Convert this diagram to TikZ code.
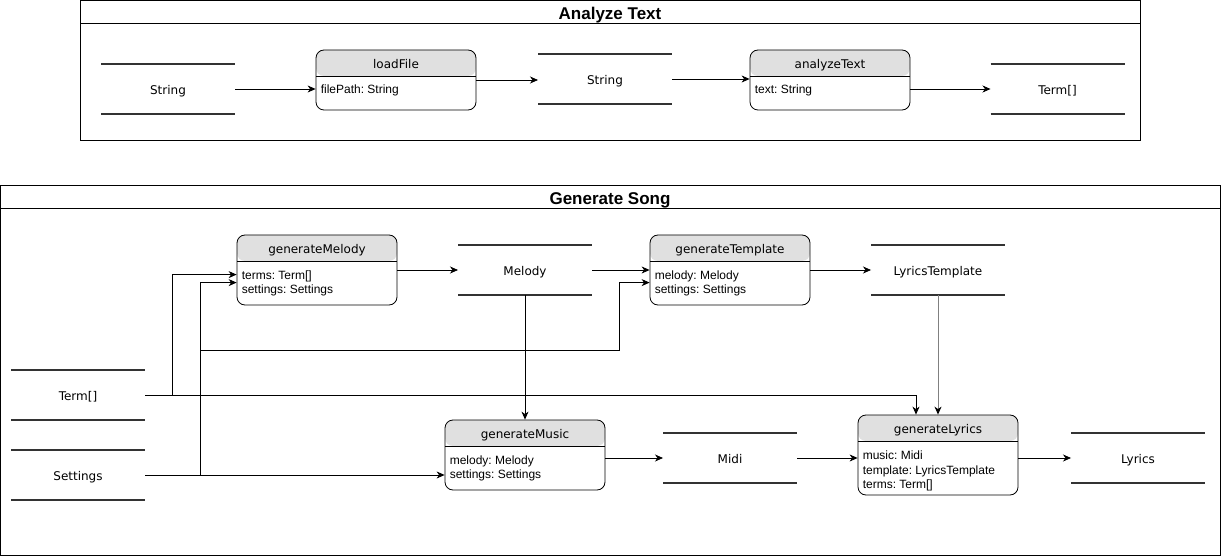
\documentclass[tikz,border=0pt]{standalone}
\usepackage{fontspec}
\setmainfont{Liberation Sans}
\newfontfamily\dvs{DejaVu Sans}
\usetikzlibrary{arrows.meta,calc}
\definecolor{hdrgray}{HTML}{E0E0E0}
\definecolor{dsline}{HTML}{333333}
\frenchspacing
\begin{document}
\frenchspacing
\begin{tikzpicture}[x=1pt,y=-1pt,
  frame/.style={draw, line width=1pt, inner sep=0, outer sep=0, anchor=north west},
  ftitle/.style={font=\bfseries\fontsize{17}{20}\selectfont, inner sep=0, anchor=base},
  dstore/.style={inner sep=0, outer sep=0, minimum width=134pt, minimum height=50pt,
     font=\dvs\fontsize{12}{14}\selectfont, text height=10.5pt, text depth=0pt,
     append after command={\pgfextra{\draw[line width=2pt, draw=dsline]
        (\tikzlastnode.north west) -- (\tikzlastnode.north east)
        (\tikzlastnode.south west) -- (\tikzlastnode.south east);}}},
  proc/.style={draw, line width=0.8pt, rounded corners=8pt, inner sep=0,
     minimum width=160pt, minimum height=70pt,
     path picture={\fill[hdrgray] (path picture bounding box.north west) rectangle ([yshift=-26pt]path picture bounding box.north east);
       \draw[line width=0.8pt] ([yshift=-26pt]path picture bounding box.north west) -- ([yshift=-26pt]path picture bounding box.north east);}},
  ptitle/.style={font=\dvs\fontsize{12}{14}\selectfont, inner sep=0, anchor=base},
  pbody/.style={font=\fontsize{12}{14}\selectfont\frenchspacing, inner sep=0, anchor=north west, align=left},
  arr/.style={line width=0.8pt, -{Stealth[length=8pt,width=7pt,inset=2.5pt]}},
]
\useasboundingbox (0,0) rectangle (1221,556);
\fill[white] (0,0) rectangle (1221,556);

% ---------- Analyze Text frame ----------
\node[frame, minimum width=1060pt, minimum height=140pt] (f1) at (80.5,0.5) {};
\draw[line width=1pt] ([yshift=-23pt]f1.north west) -- ([yshift=-23pt]f1.north east);
\node[ftitle] (f1t) at (610,20) {Analyze Text};

\node[dstore] (s1) at (168,89) {String};
\node[proc, minimum height=60pt] (lf) at (396,80) {};
\node[ptitle] (lft) at ([yshift=-18.6pt]lf.north) {loadFile};
\node[pbody] (lfb) at ([xshift=5pt,yshift=-35pt]lf.north west) {filePath: String};
\node[dstore] (s2) at (605,79) {String};
\node[proc, minimum height=60pt] (at) at (830,80) {};
\node[ptitle] (att) at ([yshift=-18.6pt]at.north) {analyzeText};
\node[pbody] (atb) at ([xshift=5pt,yshift=-35pt]at.north west) {text: String};
\node[dstore] (t1) at (1057.5,89) {Term[]};

\draw[arr] (s1.east) -- (s1.east -| lf.west);
\draw[arr] (lf.east) -- (lf.east -| s2.west);
\draw[arr] (s2.east) -- (s2.east -| at.west);
\draw[arr] (t1.west -| at.east) -- (t1.west);

% ---------- Generate Song frame ----------
\node[frame, minimum width=1220pt, minimum height=370pt] (f2) at (0.5,185.5) {};
\draw[line width=1pt] ([yshift=-23pt]f2.north west) -- ([yshift=-23pt]f2.north east);
\node[ftitle] (f2t) at (610,205) {Generate Song};

\node[proc] (gmel) at (317,270) {};
\node[ptitle] (gmelt) at ([yshift=-18.6pt]gmel.north) {generateMelody};
\node[pbody] (gmelb) at ([xshift=5pt,yshift=-36pt]gmel.north west) {terms: Term[]\\settings: Settings};

\node[dstore] (mel) at (525,270) {Melody};

\node[proc] (gtpl) at (730,270) {};
\node[ptitle] (gtplt) at ([yshift=-18.6pt]gtpl.north) {generateTemplate};
\node[pbody] (gtplb) at ([xshift=5pt,yshift=-36pt]gtpl.north west) {melody: Melody\\settings: Settings};

\node[dstore] (lt) at (938,270) {LyricsTemplate};

\node[dstore] (term) at (78,395) {Term[]};
\node[dstore] (set) at (78,475) {Settings};

\node[proc] (gmus) at (525,455) {};
\node[ptitle] (gmust) at ([yshift=-18.6pt]gmus.north) {generateMusic};
\node[pbody] (gmusb) at ([xshift=5pt,yshift=-36pt]gmus.north west) {melody: Melody\\settings: Settings};

\node[dstore] (midi) at (730,458) {Midi};

\node[proc, minimum height=80pt] (glyr) at (938,455) {};
\node[ptitle] (glyrt) at ([yshift=-18.6pt]glyr.north) {generateLyrics};
\node[pbody, font=\fontsize{12}{14.5}\selectfont\frenchspacing] (glyrb) at ([xshift=5pt,yshift=-36.5pt]glyr.north west) {music: Midi\\template: LyricsTemplate\\terms: Term[]};

\node[dstore] (lyr) at (1138,458) {Lyrics};

% connectors
\draw[arr] (gmel.east) -- (mel.west);
\draw[arr] (mel.east) -- (gtpl.west);
\draw[arr] (gtpl.east) -- (lt.west);
\draw[arr] (term.east) -- ([xshift=27pt]term.east) |- ([yshift=-40pt]gmel.north west);
\draw[arr] (term.east) -| ([xshift=-22pt]glyr.north);
\draw[arr] (set.east) -- (set.east -| gmus.west);
\draw[arr] ([xshift=55pt]set.east) |- ([yshift=-48pt]gmel.north west);
\draw[arr] ([xshift=55pt]set.east) -- ++(0,-125) -| ([xshift=-30pt,yshift=-48pt]gtpl.north west) -- ([yshift=-48pt]gtpl.north west);
\draw[arr] (mel.south) -- (gmus.north);
\draw[arr, line width=1pt, draw=black!50, -{Stealth[length=8pt,width=7pt,inset=2.5pt,black]}] (lt.south) -- (glyr.north);
\draw[arr] (midi.west -| gmus.east) -- (midi.west);
\draw[arr] (midi.east) -- (midi.east -| glyr.west);
\draw[arr] (lyr.west -| glyr.east) -- (lyr.west);
\end{tikzpicture}
\end{document}
